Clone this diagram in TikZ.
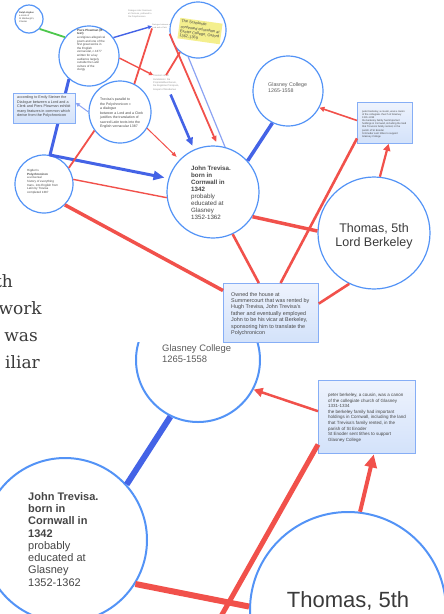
\documentclass[tikz,border=0pt]{standalone}
\usepackage{fontspec}
\setmainfont{Liberation Sans}
\newfontfamily\pagefont{DejaVu Serif}
\usetikzlibrary{arrows.meta}

\definecolor{ringblue}{HTML}{5393F6}
\definecolor{linkblue}{HTML}{4463E6}
\definecolor{paleblue}{HTML}{8CA3F3}
\definecolor{linkred}{HTML}{F1514B}
\definecolor{linkgreen}{HTML}{4CC74C}
\definecolor{notegray}{HTML}{454545}
\definecolor{fadegray}{HTML}{8A8A8A}
\definecolor{softgray}{HTML}{5A5A5A}
\definecolor{namegray}{HTML}{3A3A3A}
\definecolor{pagegray}{HTML}{3A3A3A}
\definecolor{hiyellow}{HTML}{F4EF8E}
\definecolor{boxtop}{HTML}{EEF3FD}
\definecolor{boxbot}{HTML}{D3E2FA}
\definecolor{boxline}{HTML}{86AEF6}

\newcommand{\sz}[2]{\fontsize{#1}{#2}\selectfont}

\tikzset{
  topic/.style={circle, draw=ringblue, line width=1.2pt, inner sep=0pt},
  bigtopic/.style={circle, draw=ringblue, line width=2pt, inner sep=0pt},
  card/.style={rectangle, draw=boxline, line width=0.8pt, top color=boxtop, bottom color=boxbot, inner sep=0pt, anchor=north west},
  memo/.style={anchor=north west, inner sep=0pt, align=left, text=notegray},
  faint/.style={memo, text=fadegray},
  redline/.style={draw=linkred, line width=#1},
  blueline/.style={draw=linkblue, line width=#1, line join=round},
  paleline/.style={draw=paleblue, line width=#1},
  greenline/.style={draw=linkgreen, line width=1.8pt},
  webline/.style={anchor=base east, inner sep=0pt, text=pagegray, font={\pagefont\sz{17}{20}}}
}

\begin{document}
\begin{tikzpicture}[x=1pt, y=-1pt]
\useasboundingbox (0,0) rectangle (444,614);

% page text behind the map
\node[webline] (w1) at (13,287) {th};
\node[webline] (w2) at (42,314) {work};
\node[webline] (w3) at (38,341) {was};
\node[webline] (w4) at (40,368) {iliar};

% zoomed-in view of the map
\begin{scope}
\clip (0,342) rectangle (444,614);
\node[bigtopic, minimum size=124pt] (gl2) at (198,360) {};
\node[memo, text=softgray, font={\sz{9.4}{11}}] (gl2T) at (162,344) {Glasney College\\1265-1558};
\node[card, line width=1.4pt, minimum width=97pt, minimum height=73pt] (pb2) at (318,380) {};
\node[memo, font={\sz{4.5}{5.6}}] (pb2T) at (328,393) {peter berkeley, a cousin, was a canon\\of the collegiate church of Glasney\\1331-1334\\the berkeley family had important\\holdings in Cornwall, including the land\\that Trevisa's family rented, in the\\parish of St Enoder\\St Enoder sent tithes to support\\Glasney College};
\node[bigtopic, minimum size=164pt] (jt2) at (65,540) {};
\node[memo, font={\sz{11}{12.3}}] (jt2T) at (28,492) {\textbf{John Trevisa.}\\\textbf{born in}\\\textbf{Cornwall in}\\\textbf{1342}\\probably\\educated at\\Glasney\\1352-1362};
\node[bigtopic, minimum size=196pt] (thm2) at (348,610) {};
\node[anchor=north, inner sep=0pt, text=namegray, font={\sz{22}{25}}] (thm2T) at (348,591) {Thomas, 5th};
\coordinate (own2) at (211,634);
\draw[blueline=6pt] (gl2.-116) -- (jt2.42);
\draw[redline=6pt] (jt2.-32) -- (thm2.178);
\draw[redline=5pt] (pb2.-151) -- (own2);
\draw[redline=2.5pt, -{Triangle[length=9pt,width=9pt]}] (pb2.173) -- (gl2.-28);
\draw[redline=4pt, -{Triangle[length=13pt,width=12pt]}] (thm2.83) -- (pb2.-80);
\end{scope}

% overview of the whole map
\node[topic, minimum size=28pt] (s1) at (29,19) {};
\node[memo, font={\sz{2.3}{2.9}}] (s1T) at (19,12) {\textbf{Ralph Higden}\\a monk of\\St Werburgh's,\\Chester};
\node[topic, minimum size=60pt] (pp) at (89,56) {};
\node[memo, font={\sz{3}{3.6}}] (ppT) at (77,29) {\textbf{Piers Plowman (B}\\\textbf{text)}\\a religious allegorical\\poem and one of the\\first great works in\\the English\\vernacular, c.1377\\written for a lay\\audience largely\\outside the Latin\\culture of the\\clergy};
\node[topic, minimum size=56pt] (ys) at (198,30) {};
\node[rotate=-8, fill=hiyellow, inner sep=1.6pt, align=left, text=notegray, font={\sz{3.9}{4.5}}] (ysT) at (200,31) {The Scholastic\\[1.2pt]continued education at\\Exeter College, Oxford\\1362-1369};
\node[faint, font={\sz{2.2}{3.1}}] (t1) at (128,10) {Dialogus inter Dominum\\et Clericum, prefaced to\\the Polychronicon};
\node[faint, font={\sz{2}{2.6}}] (t2) at (152,24) {Dialogue between a\\Lord and a Clerk};
\node[faint, font={\sz{2.4}{3.3}}] (t3) at (153,75) {Trevisa's other\\translations: De\\Proprietatibus Rerum,\\De Regimine Principum,\\Gospel of Nicodemus};
\node[topic, minimum size=62pt] (par) at (120,112) {};
\node[memo, font={\sz{3.5}{4.5}}] (parT) at (100,98) {Trevisa's parallel to\\the Polychronicon =\\a dialogue\\between a Lord and a Clerk\\justifies the translation of\\sacred Latin texts into the\\English vernacular 1387};
\node[topic, minimum size=58pt] (hig) at (44,184) {};
\node[memo, font={\sz{3}{3.7}}] (higT) at (27,169) {Higden's\\\textbf{Polychronicon}\\a universal\\history of everything\\trans. into English from\\Latin by Trevisa\\completed 1387};
\node[topic, minimum size=92pt] (jt) at (213,192) {};
\node[memo, font={\sz{6.2}{7}}] (jtT) at (191,166) {\textbf{John Trevisa.}\\\textbf{born in}\\\textbf{Cornwall in}\\\textbf{1342}\\probably\\educated at\\Glasney\\1352-1362};
\node[topic, minimum size=70pt] (gl) at (288,91) {};
\node[memo, text=softgray, font={\sz{5.3}{6.2}}] (glT) at (268,82) {Glasney College\\1265-1558};
\node[card, minimum width=55pt, minimum height=41pt] (pb) at (357,102) {};
\node[memo, font={\sz{2.55}{3.16}}] (pbT) at (362,110) {peter berkeley, a cousin, was a canon\\of the collegiate church of Glasney\\1331-1334\\the berkeley family had important\\holdings in Cornwall, including the land\\that Trevisa's family rented, in the\\parish of St Enoder\\St Enoder sent tithes to support\\Glasney College};
\node[topic, minimum size=112pt] (thm) at (374,233) {};
\node[anchor=north, align=center, inner sep=0pt, text=namegray, font={\sz{12.5}{14.5}}] (thmT) at (374,223) {Thomas, 5th\\Lord Berkeley};
\node[card, minimum width=95pt, minimum height=59pt] (own) at (223,283) {};
\node[memo, font={\sz{5.4}{6.4}}] (ownT) at (231,292) {Owned the house at\\Summercourt that was rented by\\Hugh Trevisa, John Trevisa's\\father and eventually employed\\John to be his vicar at Berkeley,\\sponsoring him to translate the\\Polychronicon};

% links in the overview
\coordinate (bend) at (50,155);
\draw[greenline] (s1.-43) -- (pp.142);
\draw[blueline=3pt, -{Triangle[length=11pt,width=9pt]}, shorten >=4pt] (pp.-131) -- (bend) -- (jt.163);
\node[card, minimum width=62pt, minimum height=30pt] (stn) at (13,93) {};
\node[memo, font={\sz{3.7}{4.5}}] (stnT) at (17,96) {according to Emily Steiner the\\Dialogue between a Lord and a\\Clerk and Piers Plowman exhibit\\many features in common which\\derive from the Polychronicon};
\draw[paleline=1pt, -{Triangle[length=4pt,width=4pt]}] (par.180) -- (stn.10);
\draw[redline=1pt, -{Triangle[length=5pt,width=4pt]}, shorten >=4pt] (par.-31) -- (jt.136);
\draw[redline=1.8pt] (par.-144) -- (hig.33);
\draw[blueline=2.6pt, -{Triangle[length=8pt,width=7pt]}, shorten <=4pt, shorten >=4pt] (t3.-70) -- (jt.114);
\draw[redline=1.8pt, -{Triangle[length=6pt,width=5pt]}, shorten >=4pt] (ys.188) -- (jt.84);
\draw[paleline=1.2pt] (ys.-110) -- (jt.75);
\draw[redline=1.8pt] (ys.-129) -- (t3.north);
\draw[redline=1.4pt, -{Triangle[length=4pt,width=4pt]}] (pp.-4) -- (t3.north west);
\draw[redline=1.8pt] (par.63) -- (t2.south west);
\draw[blueline=1.4pt, -{Triangle[length=4pt,width=4pt]}] (pp.37) -- (t2.west);
\draw[redline=1.4pt] (hig.9) -- (jt.-173);
\draw[redline=3.5pt] (hig.-45) -- (own.155);
\draw[redline=2.6pt] (jt.-65) -- (own.112);
\draw[redline=3.5pt] (jt.-32) -- (thm.178);
\draw[blueline=3.5pt] (gl.-116) -- (jt.42);
\draw[redline=1.6pt, -{Triangle[length=5pt,width=5pt]}] (pb.175) -- (gl.-28);
\draw[redline=2.2pt, -{Triangle[length=7pt,width=7pt]}] (thm.84) -- (pb.-80);
\draw[redline=2.6pt] (pb.-151) -- (own.72);
\draw[redline=2.6pt] (own.11) -- (thm.-116);
\end{tikzpicture}
\end{document}
